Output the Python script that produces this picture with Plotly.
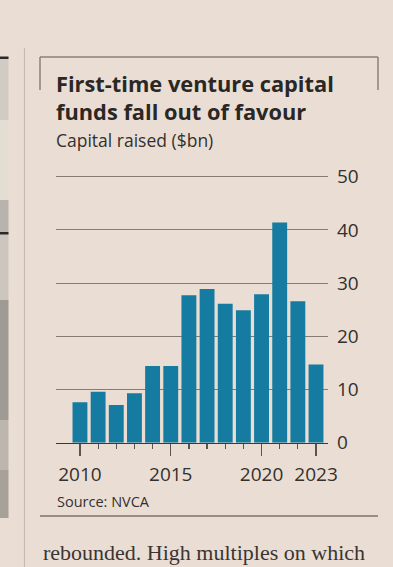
import plotly.graph_objects as go

years = list(range(2010, 2024))
capital_bn = [7.6, 9.6, 7.1, 9.3, 14.4, 14.4, 27.7, 28.9, 26.1, 24.9, 27.9, 41.4, 26.6, 14.7]
major_ticks = [2010, 2015, 2020, 2023]
minor_ticks = [y for y in years if y not in major_ticks]
y_ticks = [0, 10, 20, 30, 40, 50]

W, H = 393, 567
BG = "#EADED4"
INK = "#33302E"
BAR = "#167BA0"
SANS = "Open Sans"

def px(x):
    return x / W

def py(y):
    return 1 - y / H

fig = go.Figure()
fig.add_trace(go.Bar(x=years, y=capital_bn, marker=dict(color=BAR, line=dict(width=0)),
                     width=0.82, hoverinfo="skip"))

fig.update_layout(
    width=W, height=H, autosize=False,
    margin=dict(l=0, r=0, t=0, b=0, pad=0, autoexpand=False),
    paper_bgcolor=BG, plot_bgcolor=BG,
    showlegend=False,
    font=dict(family=SANS, color=INK),
    xaxis=dict(
        domain=[px(56), px(328)],
        range=[2008.68, 2023.66],
        tickmode="array", tickvals=major_ticks, ticktext=[str(t) for t in major_ticks],
        ticks="outside", ticklen=12, tickwidth=1.3, tickcolor="#5a5450",
        minor=dict(tickmode="array", tickvals=minor_ticks, ticks="outside", ticklen=5,
                   tickwidth=1.2, tickcolor="#5a5450", showgrid=False),
        showline=True, linecolor="#3d3835", linewidth=1.6,
        showgrid=False, zeroline=False,
        tickfont=dict(family=SANS, size=19, color=INK),
        ticklabelstandoff=2,
        fixedrange=True,
    ),
    yaxis=dict(
        domain=[py(442.7), py(442.7 - 51.0 * 5.32)],
        range=[0, 51.0],
        side="right",
        tickmode="array", tickvals=y_ticks,
        ticks="", showline=False, zeroline=False,
        showgrid=True, gridcolor="#857c75", gridwidth=1,
        tickfont=dict(family=SANS, size=19, color=INK),
        ticklabelstandoff=8,
        fixedrange=True,
    ),
)

shapes = []
line_col = "#8a8079"
# frame top with end ticks
shapes.append(dict(type="line", xref="paper", yref="paper", x0=px(40), x1=px(378), y0=py(57), y1=py(57),
                   line=dict(color=line_col, width=1.5)))
shapes.append(dict(type="line", xref="paper", yref="paper", x0=px(40), x1=px(40), y0=py(57), y1=py(90),
                   line=dict(color=line_col, width=1.5)))
shapes.append(dict(type="line", xref="paper", yref="paper", x0=px(378), x1=px(378), y0=py(57), y1=py(90),
                   line=dict(color=line_col, width=1.5)))
# frame bottom
shapes.append(dict(type="line", xref="paper", yref="paper", x0=px(40), x1=px(378), y0=py(516), y1=py(516),
                   line=dict(color="#7c736d", width=1.5)))
# column rule
shapes.append(dict(type="line", xref="paper", yref="paper", x0=px(24.5), x1=px(24.5), y0=py(48), y1=py(567),
                   line=dict(color="#c7bab0", width=1.2)))
# left photo strip
strip = [(57, 120, "#d2cbc4"), (120, 200, "#e4ddd4"), (200, 232, "#b9b3ad"), (232, 300, "#cdc6bf"),
         (300, 420, "#9f9a94"), (420, 470, "#bdb6ae"), (470, 518, "#a8a199")]
for y0, y1, c in strip:
    shapes.append(dict(type="rect", xref="paper", yref="paper", x0=0, x1=px(8.5), y0=py(y1), y1=py(y0),
                       fillcolor=c, line=dict(width=0), layer="below"))
for yy in (57.5, 233):
    shapes.append(dict(type="rect", xref="paper", yref="paper", x0=0, x1=px(8.5), y0=py(yy + 1.5), y1=py(yy - 1),
                       fillcolor="#2b2826", line=dict(width=0)))
fig.update_layout(shapes=shapes)

ann = []
ann.append(dict(text="<b>First-time venture capital<br>funds fall out of favour</b>",
                x=px(54), y=py(67), xref="paper", yref="paper",
                xanchor="left", yanchor="top", align="left", showarrow=False,
                font=dict(family=SANS, size=21.8, color="#2a2725")))
ann.append(dict(text="Capital raised ($bn)", x=px(54), y=py(126), xref="paper", yref="paper",
                xanchor="left", yanchor="top", showarrow=False,
                font=dict(family=SANS, size=17.5, color=INK)))
ann.append(dict(text="Source: NVCA", x=px(55), y=py(490), xref="paper", yref="paper",
                xanchor="left", yanchor="top", showarrow=False,
                font=dict(family=SANS, size=14.5, color=INK)))
ann.append(dict(text="rebounded. High multiples on which", x=px(41), y=py(567), xref="paper", yref="paper",
                xanchor="left", yanchor="bottom", showarrow=False,
                font=dict(family="Liberation Serif", size=22, color="#3a3532")))
fig.update_layout(annotations=ann)

fig.write_html("out.html",
               config=dict(responsive=False, displayModeBar=False, staticPlot=True),
               post_script="document.body.style.margin='0';document.body.style.overflow='hidden';")
